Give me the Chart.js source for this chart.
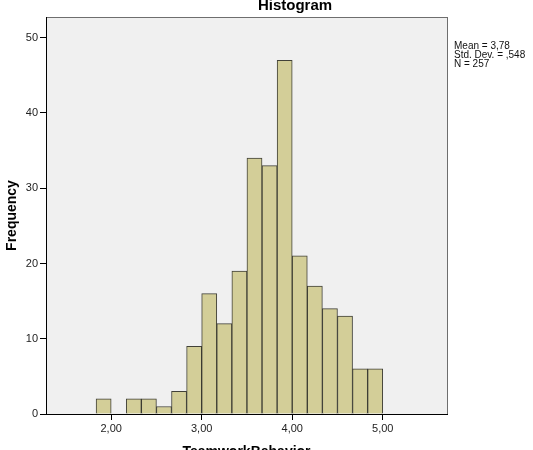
<!DOCTYPE html>
<html><head><meta charset="utf-8">
<script src="https://cdn.jsdelivr.net/npm/chart.js@4.4.1/dist/chart.umd.min.js"></script>
<style>html,body{margin:0;padding:0;background:#fff;}#wrap{width:533px;height:450px;position:relative;}</style>
</head><body><div id="wrap"><canvas id="c" width="533" height="450"></canvas></div>
<script>
const binCenters = [1.9167, 2.0833, 2.25, 2.4167, 2.5833, 2.75, 2.9167, 3.0833, 3.25, 3.4167, 3.5833, 3.75, 3.9167, 4.0833, 4.25, 4.4167, 4.5833, 4.75, 4.9167];
const frequencies = [2, 0, 2, 2, 1, 3, 9, 16, 12, 19, 34, 33, 47, 21, 17, 14, 13, 6, 6];
const xTickValues = [2, 3, 4, 5];
const yTickValues = [0, 10, 20, 30, 40, 50];
const statsLines = ['Mean = 3,78', 'Std. Dev. = ,548', 'N = 257'];
const chartTitle = 'Histogram';
const xTitle = 'TeamworkBehavior';
const yTitle = 'Frequency';

const FAM = '"Liberation Sans", Arial, sans-serif';

const decor = {
  id: 'decor',
  beforeDraw(chart) {
    const {ctx, chartArea: a} = chart;
    ctx.save();
    ctx.fillStyle = '#f0f0f0';
    ctx.fillRect(a.left, a.top, a.right - a.left, a.bottom - a.top);
    ctx.strokeStyle = '#6e6e6e';
    ctx.lineWidth = 1;
    ctx.strokeRect(Math.round(a.left) + 0.5, Math.round(a.top) + 0.5, Math.round(a.right - a.left), Math.round(a.bottom - a.top));
    ctx.restore();
  },
  afterDraw(chart) {
    const {ctx, chartArea: a} = chart;
    ctx.save();
    ctx.fillStyle = '#000';
    ctx.font = 'bold 15px ' + FAM;
    ctx.textAlign = 'center';
    ctx.textBaseline = 'alphabetic';
    ctx.fillText(chartTitle, 295, 10);
    ctx.font = '10px ' + FAM;
    ctx.textAlign = 'left';
    ctx.fillStyle = '#111';
    statsLines.forEach((t, i) => ctx.fillText(t, a.right + 7, 49 + i * 9));
    ctx.restore();
  }
};

new Chart(document.getElementById('c'), {
  type: 'bar',
  data: {
    datasets: [{
      data: binCenters.map((x, i) => ({x: x, y: frequencies[i]})),
      backgroundColor: 'rgb(211,206,152)',
      borderColor: 'rgba(45,45,35,0.9)',
      borderWidth: 1,
      barPercentage: 1,
      categoryPercentage: 1
    }]
  },
  options: {
    responsive: false,
    animation: false,
    devicePixelRatio: 1,
    layout: {padding: {top: 17, right: 86, left: 0, bottom: 0}},
    plugins: {legend: {display: false}, tooltip: {enabled: false}, title: {display: false}},
    scales: {
      x: {
        type: 'linear',
        min: 1.28, max: 5.71,
        offset: false,
        afterBuildTicks: s => { s.ticks = xTickValues.map(v => ({value: v})); },
        afterFit: s => { s.height = 36; },
        ticks: {
          callback: v => v.toFixed(2).replace('.', ','),
          font: {size: 11, family: FAM}, color: '#222', padding: 2,
          maxRotation: 0, autoSkip: false
        },
        grid: {drawOnChartArea: false, drawTicks: true, tickLength: 6, color: '#000', offset: false},
        border: {display: true, color: '#000', width: 1},
        title: {display: true, text: xTitle, color: '#000',
          font: {size: 14, weight: 'bold', family: FAM, lineHeight: 1.2},
          padding: {top: 0, bottom: -11}}
      },
      y: {
        type: 'linear',
        min: 0, max: 52.75,
        afterBuildTicks: s => { s.ticks = yTickValues.map(v => ({value: v})); },
        afterFit: s => { s.width = 46; },
        ticks: {font: {size: 11, family: FAM}, color: '#222', padding: 2},
        grid: {drawOnChartArea: false, drawTicks: true, tickLength: 6, color: '#000'},
        border: {display: true, color: '#000', width: 1},
        title: {display: true, text: yTitle, color: '#000',
          font: {size: 14, weight: 'bold', family: FAM, lineHeight: 1.2},
          padding: {top: 4, bottom: 0}}
      }
    }
  },
  plugins: [decor]
});
</script></body></html>
